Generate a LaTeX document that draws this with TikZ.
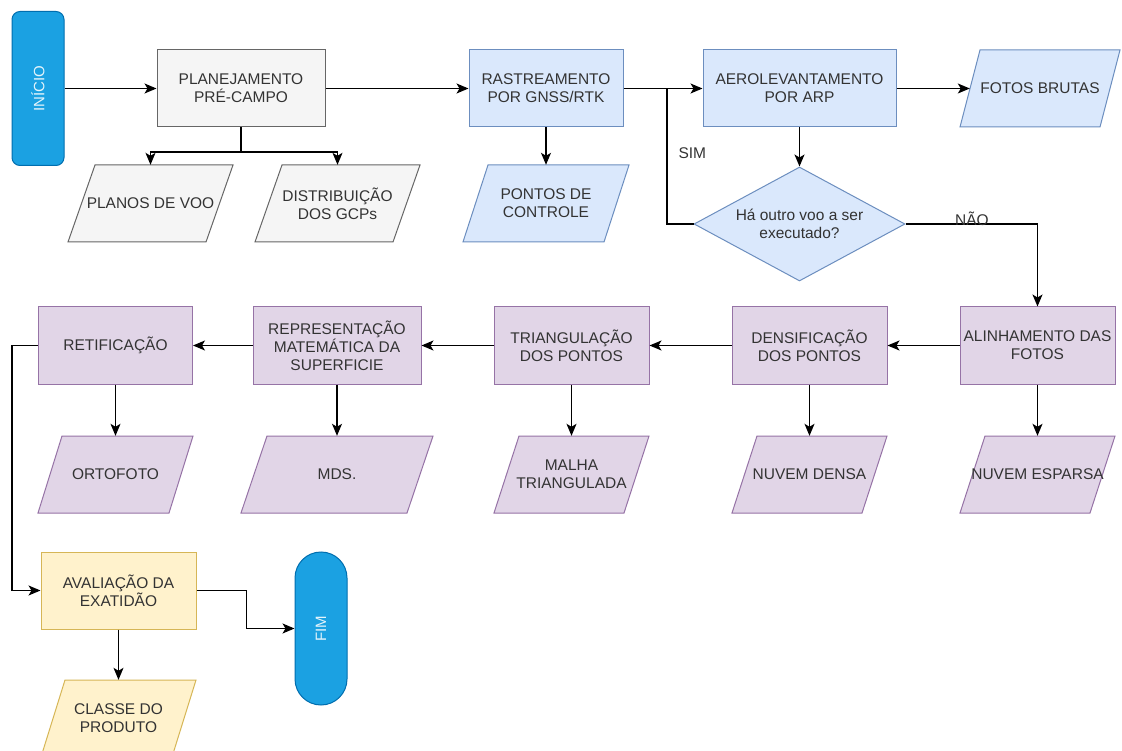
\documentclass[tikz,border=0pt]{standalone}
\usepackage{fontspec}
\setmainfont{Liberation Sans}
\usetikzlibrary{arrows.meta,shapes.geometric}
\definecolor{gfill}{HTML}{F5F5F5}\definecolor{gline}{HTML}{666666}
\definecolor{bfill}{HTML}{DAE8FC}\definecolor{bline}{HTML}{6C8EBF}
\definecolor{pfill}{HTML}{E1D5E7}\definecolor{pline}{HTML}{9673A6}
\definecolor{yfill}{HTML}{FFF2CC}\definecolor{yline}{HTML}{D6B656}
\definecolor{tfill}{HTML}{1BA1E2}\definecolor{tline}{HTML}{006EAF}
\definecolor{txt}{HTML}{333333}
\newcommand\mypara[7]{%
  \path[#6] (#2-#4/2+#5,#3-38.5) -- (#2+#4/2,#3-38.5) -- (#2+#4/2-#5,#3+38.5) -- (#2-#4/2,#3+38.5) -- cycle;
  \node[ptxt, minimum width={#4-#5}] (#1) at (#2,#3) {#7};}
\tikzset{
  lbl/.style={font=\fontsize{15.5}{18}\selectfont, text=txt, align=center},
  ptxt/.style={lbl, minimum height=77pt, inner sep=1pt},
  boxbase/.style={lbl, draw, line width=1pt, minimum height=77pt, inner sep=2pt},
  gbox/.style={boxbase, fill=gfill, draw=gline},
  bbox/.style={boxbase, fill=bfill, draw=bline},
  pbox/.style={boxbase, fill=pfill, draw=pline},
  ybox/.style={boxbase, fill=yfill, draw=yline},
  gp/.style={fill=gfill, draw=gline, line width=1pt},
  bp/.style={fill=bfill, draw=bline, line width=1pt},
  pp/.style={fill=pfill, draw=pline, line width=1pt},
  yp/.style={fill=yfill, draw=yline, line width=1pt},
  term/.style={draw=tline, fill=tfill, line width=1pt, minimum width=52pt},
  termtxt/.style={text=white!88!tfill, font=\fontsize{15}{18}\selectfont, rotate=90},
  arr/.style={draw=black, line width=1.2pt, -{Stealth[length=12pt,width=10pt,inset=3pt]}},
  ln/.style={draw=black, line width=1.2pt},
}
\begin{document}
\begin{tikzpicture}[x=1pt,y=-1pt]
\useasboundingbox[fill=white] (0,0) rectangle (1122,751);
% top row
\node[term, minimum height=154pt, rounded corners=8pt] (ini) at (38,88.5) {};
\node[termtxt] (initxt) at (ini.center) {INÍCIO};
\node[gbox, minimum width=168pt] (plan) at (241,88.5) {PLANEJAMENTO\\PRÉ-CAMPO};
\node[bbox, minimum width=154pt] (rast) at (546,88.5) {RASTREAMENTO\\POR GNSS/RTK};
\node[bbox, minimum width=193pt] (aero) at (799.5,88.5) {AEROLEVANTAMENTO\\POR ARP};
\mypara{fotos}{1040}{88.5}{160}{20}{bp}{FOTOS BRUTAS}
\mypara{planos}{150.5}{203.5}{165}{27}{gp}{PLANOS DE VOO}
\mypara{dist}{337.5}{203.5}{165}{27}{gp}{DISTRIBUIÇÃO\\DOS GCPs}
\mypara{pontos}{546}{203.5}{166}{25}{bp}{PONTOS DE\\CONTROLE}
\node[diamond, aspect=1.85, minimum width=211pt, minimum height=114pt, inner sep=0pt,
  fill=bfill, draw=bline, line width=1pt, lbl] (dec) at (799.5,224) {Há outro voo a ser\\executado?};
% second row
\node[pbox, minimum width=154pt] (retif) at (115.5,345.5) {RETIFICAÇÃO};
\node[pbox, minimum width=168pt] (repres) at (337,345.5) {REPRESENTAÇÃO\\MATEMÁTICA DA\\SUPERFICIE};
\node[pbox, minimum width=155pt] (triang) at (571.5,345.5) {TRIANGULAÇÃO\\DOS PONTOS};
\node[pbox, minimum width=155pt] (densif) at (809.5,345.5) {DENSIFICAÇÃO\\DOS PONTOS};
\node[pbox, minimum width=155pt] (alinh) at (1037.5,345.5) {ALINHAMENTO DAS\\FOTOS};
\mypara{orto}{115.5}{474.5}{155}{24}{pp}{ORTOFOTO}
\mypara{mds}{337}{474.5}{192}{26}{pp}{MDS.}
\mypara{malha}{571.5}{474.5}{155}{25}{pp}{MALHA\\TRIANGULADA}
\mypara{densa}{809.5}{474.5}{155}{25}{pp}{NUVEM DENSA}
\mypara{esparsa}{1037.5}{474.5}{155}{25}{pp}{NUVEM ESPARSA}
% bottom
\node[ybox, minimum width=155pt] (aval) at (118.5,590.5) {AVALIAÇÃO DA\\EXATIDÃO};
\node[term, minimum height=153pt, rounded corners=26pt] (fim) at (321,628.5) {};
\node[termtxt] (fimtxt) at (fim.center) {FIM};
\mypara{classe}{118.5}{718.5}{155}{24}{yp}{CLASSE DO\\PRODUTO}
% connectors
\draw[arr] (ini.east |- plan.west) -- (plan.west);
\coordinate (pj) at (241,152);
\draw[ln] (plan.south) -- (pj);
\draw[arr] (pj) -| (planos.north);
\draw[arr] (pj) -| (dist.north);
\draw[arr] (plan.east) -- (rast.west);
\draw[arr] (rast.south) -- (pontos.north);
\draw[arr] (rast.east) -- (aero.west);
\coordinate (sj) at (667,88.5);
\draw[ln] (dec.west) -- (dec.west -| sj) -- (sj);
\node[lbl, anchor=west] (sim) at (675,153) {SIM};
\draw[arr] (aero.east) -- (fotos.west);
\draw[arr] (aero.south) -- (dec.north);
\draw[arr] (dec.east) -| (alinh.north);
\node[lbl, anchor=south] (nao) at (972,229) {NÃO};
\draw[arr] (alinh.west) -- (densif.east);
\draw[arr] (densif.west) -- (triang.east);
\draw[arr] (triang.west) -- (repres.east);
\draw[arr] (repres.west) -- (retif.east);
\draw[arr] (retif.south) -- (orto.north);
\draw[arr] (repres.south) -- (mds.north);
\draw[arr] (triang.south) -- (malha.north);
\draw[arr] (densif.south) -- (densa.north);
\draw[arr] (alinh.south) -- (esparsa.north);
\draw[arr] (retif.west) -- ++(-26,0) |- (aval.west);
\draw[arr] (aval.east) -- ++(50,0) |- (fim.west);
\draw[arr] (aval.south) -- (classe.north);
\end{tikzpicture}
\end{document}
